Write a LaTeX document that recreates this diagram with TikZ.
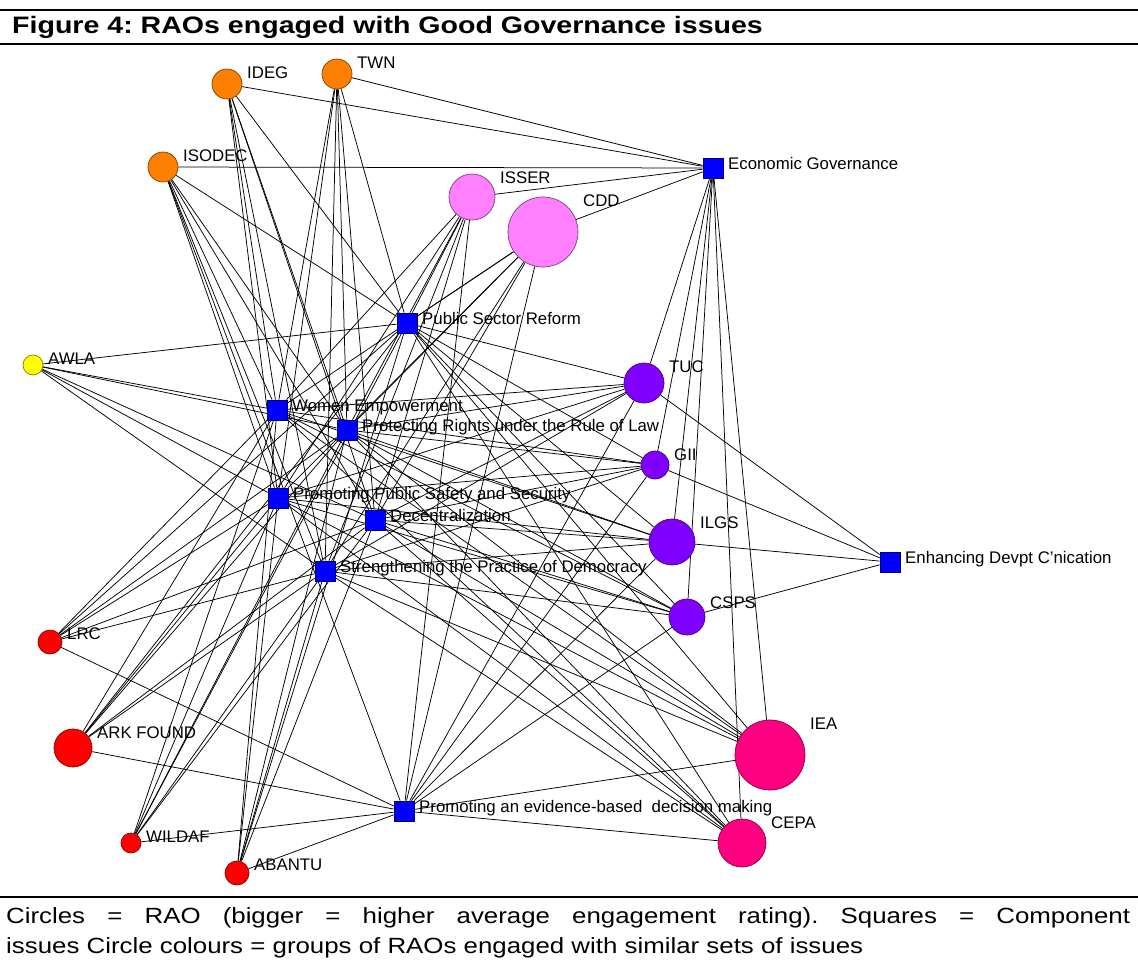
\documentclass[tikz,border=0pt]{standalone}
\usepackage{fontspec}
\setmainfont{Liberation Sans}
\newfontfamily\titlefont[FakeStretch=1.2]{Liberation Sans}
\newfontfamily\capfont[FakeStretch=1.175]{Liberation Sans}
\frenchspacing
\pgfdeclarelayer{bg}
\pgfsetlayers{bg,main}
\definecolor{cOrange}{HTML}{FF8000}
\definecolor{cPink}{HTML}{FF80FF}
\definecolor{cYellow}{HTML}{FFFF00}
\definecolor{cPurple}{HTML}{8000FF}
\definecolor{cRed}{HTML}{FF0000}
\definecolor{cMagenta}{HTML}{FF0080}
\definecolor{cBlue}{HTML}{0000FF}
\tikzset{
  rao/.style={circle, draw=#1!50!black, fill=#1, line width=0.7pt, inner sep=0pt},
  issue/.style={rectangle, draw=cBlue!45!black, fill=cBlue, minimum size=20pt, inner sep=0pt, line width=0.7pt},
  lab/.style={anchor=base west, inner sep=0pt, font=\fontsize{16.8}{18}\selectfont},
  edge/.style={draw=black, line width=0.75pt},
  rule/.style={draw=black},
}
\newcommand\RAOnode[6]{%
  \node[rao=#5, minimum size=2*#4pt] (#1) at (#2,#3) {};
  \node[lab] (#1l) at ({#2+#4+5},{#3-#4+9}) {#6};
}
\newcommand\ISSUEnode[4]{%
  \node[issue] (#1) at (#2,#3) {};
  \node[lab] (#1l) at ({#2+15},{#3+1}) {#4};
}
\begin{document}
\begin{tikzpicture}[x=1pt,y=-1pt]
\useasboundingbox (0,0) rectangle (1138,959);
% frame and title
\draw[rule, line width=2.2pt] (0,10) -- (1138,10);
\draw[rule, line width=2.5pt] (0,44) -- (1138,44);
\draw[rule, line width=1.2pt] (0,897) -- (1138,897);
\node[anchor=base west, inner sep=0pt] (title) at (12,33)
  {\titlefont\bfseries\fontsize{23.8}{28}\selectfont Figure 4: RAOs engaged with Good Governance issues};
\node[anchor=base west, inner sep=0pt] (cap1) at (6,923)
  {\capfont\fontsize{22}{30}\selectfont\hbox to 1124pt{Circles = RAO (bigger = higher average engagement rating). Squares = Component}};
\node[anchor=base west, inner sep=0pt] (cap2) at (6,953)
  {\capfont\fontsize{22}{30}\selectfont issues Circle colours = groups of RAOs engaged with similar sets of issues};
% RAOs
\RAOnode{IDEG}{227}{84}{15}{cOrange}{IDEG}
\RAOnode{TWN}{337}{74}{15}{cOrange}{TWN}
\RAOnode{ISODEC}{163}{167}{15}{cOrange}{ISODEC}
\RAOnode{ISSER}{472}{197}{23}{cPink}{ISSER}
\RAOnode{CDD}{543}{232}{35}{cPink}{CDD}
\RAOnode{AWLA}{33}{365}{10}{cYellow}{AWLA}
\RAOnode{TUC}{644}{383}{20}{cPurple}{TUC}
\RAOnode{GII}{655}{465}{14}{cPurple}{GII}
\RAOnode{ILGS}{672}{542}{23}{cPurple}{ILGS}
\RAOnode{CSPS}{687}{617}{18}{cPurple}{CSPS}
\RAOnode{LRC}{50}{642}{12}{cRed}{LRC}
\RAOnode{ARK}{73}{748}{19}{cRed}{ARK FOUND}
\RAOnode{WILDAF}{131}{843}{10}{cRed}{WILDAF}
\RAOnode{ABANTU}{237}{873}{12}{cRed}{ABANTU}
\RAOnode{IEA}{770}{755}{35}{cMagenta}{IEA}
\RAOnode{CEPA}{742}{843}{24}{cMagenta}{CEPA}
% issues
\ISSUEnode{EG}{713}{168}{Economic Governance}
\ISSUEnode{PSR}{407}{323}{Public Sector Reform}
\ISSUEnode{WE}{277}{410}{Women Empowerment}
\ISSUEnode{PR}{347}{430}{Protecting Rights under the Rule of Law}
\ISSUEnode{PPS}{278}{498}{Promoting Public Safety and Security}
\ISSUEnode{DEC}{375}{520}{Decentralization}
\ISSUEnode{SPD}{325}{571}{Strengthening the Practice of Democracy}
\ISSUEnode{EDC}{890}{562}{Enhancing Devpt C'nication}
\ISSUEnode{PEB}{404}{811}{Promoting an evidence-based\ \ decision making}
% connectors
\begin{pgfonlayer}{bg}
\fill[white] (0,0) rectangle (1138,959);
\foreach \b in {PSR,WE,PR,PPS,DEC,SPD}
  \foreach \a in {IDEG,TWN,ISODEC,ISSER,CDD,AWLA,TUC,GII,ILGS,CSPS,LRC,ARK,WILDAF,ABANTU,IEA,CEPA}
    \draw[edge] (\a) -- (\b);
\foreach \a in {IDEG,TWN,ISODEC,ISSER,CDD,TUC,GII,ILGS,CSPS,IEA,CEPA}
  \draw[edge] (\a) -- (EG);
\foreach \a in {TUC,GII,ILGS,CSPS}
  \draw[edge] (\a) -- (EDC);
\foreach \a in {ISODEC,ISSER,CDD,TUC,GII,ILGS,CSPS,LRC,ARK,WILDAF,ABANTU,IEA,CEPA}
  \draw[edge] (\a) -- (PEB);
\end{pgfonlayer}
\end{tikzpicture}
\end{document}
